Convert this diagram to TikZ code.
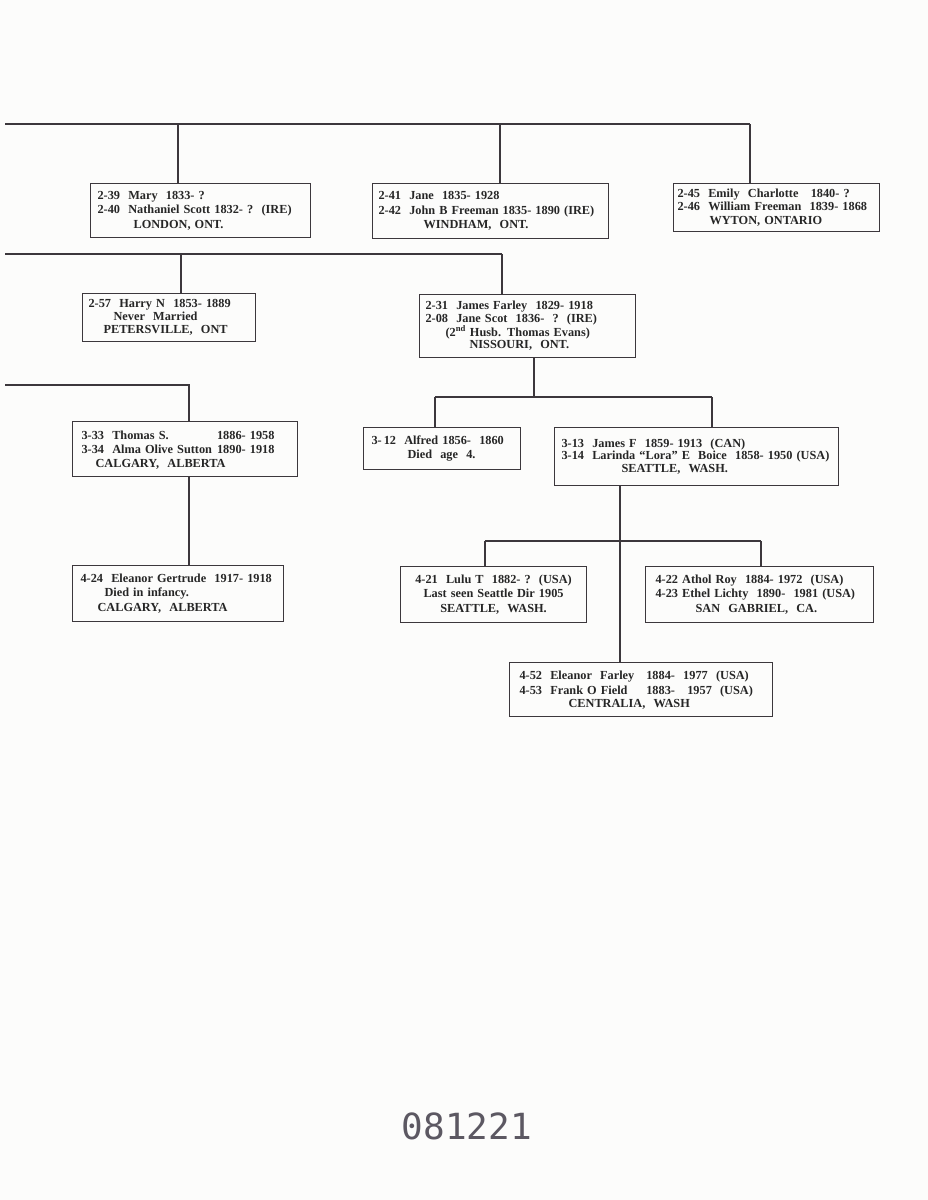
\documentclass[tikz,border=0pt]{standalone}
\usepackage{fontspec}
\setmainfont{Liberation Serif}
\newfontfamily\stampfont{DejaVu Sans Mono}
\definecolor{paper}{RGB}{252,252,251}
\definecolor{ink}{RGB}{60,55,60}
\definecolor{stampink}{RGB}{92,88,98}

\begin{document}
\begin{tikzpicture}[x=1pt, y=-1pt,
            fam/.style={draw=ink, line width=1.1pt, anchor=north west, align=left,
                inner xsep=7pt, inner ysep=0pt, text=black!85,
                font=\bfseries\fontsize{12.3}{14.5}\selectfont},
            tight/.style={font=\bfseries\fontsize{12.3}{12.5}\selectfont},
            bus/.style={draw=ink, line width=1.4pt}]

            \fill[paper] (0,0) rectangle (928,1200);
            \useasboundingbox (0,0) rectangle (928,1200);

            % second generation, first row
            \node[fam, text width=206pt, minimum height=54pt] (mary) at (90,183)
                {2-39\ \ Mary\ \ 1833- ?\\2-40\ \ Nathaniel Scott 1832- ?\ \ (IRE)\\\hspace*{36pt}LONDON,\ ONT.};
            \node[fam, inner xsep=6pt, text width=224pt, minimum height=55pt] (jane) at (372,183)
                {2-41\ \ Jane\ \ 1835- 1928\\2-42\ \ John B Freeman 1835- 1890 (IRE)\\\hspace*{45pt}WINDHAM,\ \ ONT.};
            \node[fam, inner xsep=4pt, text width=198pt, minimum height=48pt,
                font=\bfseries\fontsize{12.3}{13.5}\selectfont] (emily) at (673,183)
                {2-45\ \ Emily\ \ Charlotte\ \ \ 1840- ?\\2-46\ \ William Freeman\ \ 1839- 1868\\\hspace*{32pt}WYTON, ONTARIO};

            % second generation, second row
            \node[fam, inner xsep=6pt, text width=161pt, minimum height=48pt,
                font=\bfseries\fontsize{12.3}{13}\selectfont] (harry) at (82,293)
                {2-57\ \ Harry N\ \ 1853-\ 1889\\\hspace*{25pt}Never\ \ Married\\\hspace*{15pt}PETERSVILLE,\ \ ONT};
            \node[fam, tight, inner xsep=6pt, text width=204pt, minimum height=63pt] (james) at (419,294)
                {2-31\ \ James Farley\ \ 1829- 1918\\2-08\ \ Jane Scot\ \ 1836-\ \ ?\ \ (IRE)\\
                \hspace*{20pt}(2\textsuperscript{nd} Husb. Thomas Evans)\\\hspace*{44pt}NISSOURI,\ \ ONT.};

            % third generation
            \node[fam, inner xsep=9pt, text width=207pt, minimum height=55pt] (thomas) at (72,421)
                {\begin{tabular}{@{}l@{\hspace{5pt}}l@{}}
                 3-33\ \ Thomas S. & 1886-\ 1958\\
                 3-34\ \ Alma Olive Sutton & 1890-\ 1918
                 \end{tabular}\\\hspace*{14pt}CALGARY,\ \ ALBERTA};
            \node[fam, inner xsep=8pt, text width=141pt, minimum height=42pt,
                font=\bfseries\fontsize{12.3}{13.5}\selectfont] (alfred) at (363,427)
                {3-\,12\ \ Alfred\ 1856-\ \ 1860\\\hspace*{36pt}Died\ \ age\ \ 4.};
            \node[fam, tight, inner xsep=7pt, text width=270pt, minimum height=58pt] (jamesf) at (554,427)
                {3-13\ \ James F\ \ 1859-\ 1913\ \ (CAN)\\3-14\ \ Larinda “Lora” E\ \ Boice\ \ 1858- 1950 (USA)\\\hspace*{60pt}SEATTLE,\ \ WASH.};

            % fourth generation
            \node[fam, inner xsep=8pt, text width=195pt, minimum height=56pt] (gertrude) at (72,565)
                {4-24\ \ Eleanor Gertrude\ \ 1917- 1918\\\hspace*{24pt}Died in infancy.\\\hspace*{17pt}CALGARY,\ \ ALBERTA};
            \node[fam, align=center, text width=172pt, minimum height=56pt] (lulu) at (400,566)
                {4-21\ \ Lulu T\ \ 1882- ?\ \ (USA)\\Last seen Seattle Dir 1905\\SEATTLE,\ \ WASH.};
            \node[fam, inner xsep=10pt, text width=208pt, minimum height=56pt] (athol) at (645,566)
                {4-22 Athol Roy\ \ 1884- 1972\ \ (USA)\\4-23 Ethel Lichty\ \ 1890-\ \ 1981 (USA)\\\hspace*{40pt}SAN\ \ GABRIEL,\ \ CA.};
            \node[fam, inner xsep=10pt, text width=243pt, minimum height=54pt] (eleanor) at (509,662)
                {\begin{tabular}{@{}l@{\hspace{12pt}}l@{}}
                 4-52\ \ Eleanor\ \ Farley & 1884-\ \ 1977\ \ (USA)\\
                 4-53\ \ Frank O Field & 1883-\ \ \ 1957\ \ (USA)
                 \end{tabular}\\\hspace*{49pt}CENTRALIA,\ \ WASH};

            \node[font=\stampfont\fontsize{36}{36}\selectfont, text=stampink] (stamp) at (467,1126) {081221};

            % connectors
            \coordinate (busone) at (5,124);
            \coordinate (bustwo) at (5,254);
            \coordinate (busthree) at (5,385);

            \draw[bus] (busone) -- (750,124);
            \foreach \x/\n in {178/mary, 500/jane, 750/emily}{
                \draw[bus] (\x,124) -- (\x,124 |- \n.north);
            }

            \draw[bus] (bustwo) -- (502,254);
            \foreach \x/\n in {181/harry, 502/james}{
                \draw[bus] (\x,254) -- (\x,254 |- \n.north);
            }

            \draw[bus] (busthree) -- (189,385) -- (189,385 |- thomas.north);
            \draw[bus] (189,0 |- thomas.south) -- (189,0 |- gertrude.north);

            \draw[bus] (534,0 |- james.south) -- (534,397);
            \draw[bus] (435,397) -- (712,397);
            \foreach \x/\n in {435/alfred, 712/jamesf}{
                \draw[bus] (\x,397) -- (\x,397 |- \n.north);
            }

            \draw[bus] (620,0 |- jamesf.south) -- (620,0 |- eleanor.north);
            \draw[bus] (485,541) -- (761,541);
            \foreach \x/\n in {485/lulu, 761/athol}{
                \draw[bus] (\x,541) -- (\x,541 |- \n.north);
            }
        \end{tikzpicture}
\end{document}
